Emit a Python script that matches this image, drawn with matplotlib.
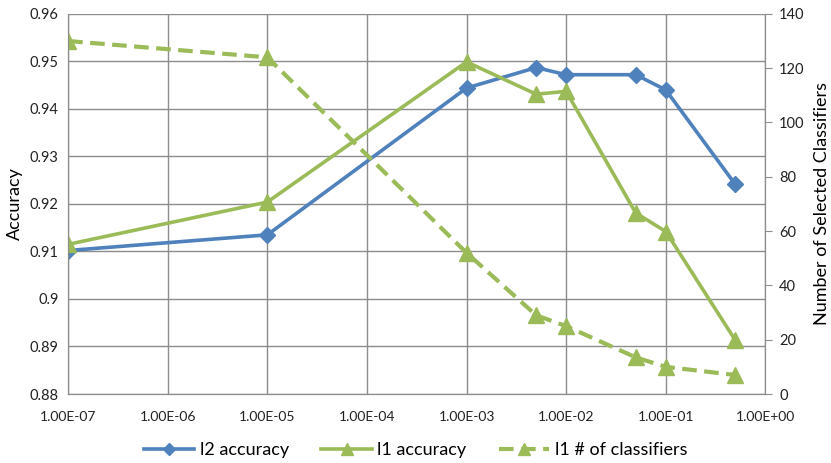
import numpy as np
import matplotlib
matplotlib.use("Agg")
import matplotlib.pyplot as plt
from matplotlib.ticker import FuncFormatter, FixedLocator, NullLocator

plt.rcParams['font.family'] = ['Lato', 'DejaVu Sans']

# regularisation strength
lam = [1e-7, 1e-5, 1e-3, 5e-3, 1e-2, 5e-2, 1e-1, 5e-1]
l2_acc = [0.9102, 0.9135, 0.9444, 0.9487, 0.9472, 0.9472, 0.9440, 0.9241]
l1_acc = [0.9115, 0.9204, 0.9499, 0.9431, 0.9437, 0.9181, 0.9142, 0.8913]
l1_n = [130, 124, 52, 29, 25, 13.5, 10, 7]

xticks = [1e-7, 1e-6, 1e-5, 1e-4, 1e-3, 1e-2, 1e-1, 1e0]
yticks = [0.88, 0.89, 0.9, 0.91, 0.92, 0.93, 0.94, 0.95, 0.96]
y2ticks = [0, 20, 40, 60, 80, 100, 120, 140]

blue = "#4F81BD"
green = "#9BBB59"
grid = "#8C8C8C"

fig = plt.figure(figsize=(8.31, 4.63), dpi=100)
ax = fig.add_axes([0.082, 0.149, 0.839, 0.821])
ax2 = ax.twinx()

ax.set_xscale("log")
ax.set_xlim(1e-7, 1e0)
ax.set_ylim(0.88, 0.96)
ax2.set_ylim(0, 140)

l1, = ax.plot(lam, l2_acc, color=blue, lw=2.6, marker="D", ms=8, label="l2 accuracy", zorder=4)
l2, = ax.plot(lam, l1_acc, color=green, lw=2.6, marker="^", ms=11, label="l1 accuracy", zorder=4)
l3, = ax2.plot(lam, l1_n, color=green, lw=3, ls=(0, (3.5, 1.8)), marker="^", ms=11,
               label="l1 # of classifiers")

ax.xaxis.set_major_locator(FixedLocator(xticks))
ax.xaxis.set_minor_locator(NullLocator())
ax.xaxis.set_major_formatter(FuncFormatter(lambda v, p: f"{v:.2E}"))
ax.set_yticks(yticks)
ax.yaxis.set_major_formatter(FuncFormatter(lambda v, p: f"{v:g}"))
ax2.set_yticks(y2ticks)

ax.grid(True, color=grid, lw=1)
ax.set_axisbelow(True)
for a in (ax, ax2):
    a.spines['top'].set_visible(False)
    for s in ('left', 'bottom', 'right'):
        a.spines[s].set_color(grid)
ax.tick_params(axis='y', length=0, labelsize=10.5, colors="#222222", pad=7)
ax.tick_params(axis='x', length=0, labelsize=10, colors="#222222", pad=12)
ax2.tick_params(axis='y', length=5, color=grid, labelsize=10.5, labelcolor="#222222", pad=5)

ax.set_ylabel("Accuracy", fontsize=13, labelpad=5)
ax2.set_ylabel("Number of Selected Classifiers", fontsize=13, labelpad=7)

fig.legend(handles=[l1, l2, l3], loc="lower center", bbox_to_anchor=(0.5, -0.025), ncol=3,
           frameon=False, fontsize=13, handlelength=2.8, columnspacing=1.8, handletextpad=0.3,
           markerscale=0.8)

fig.savefig("out.png", dpi=100)
